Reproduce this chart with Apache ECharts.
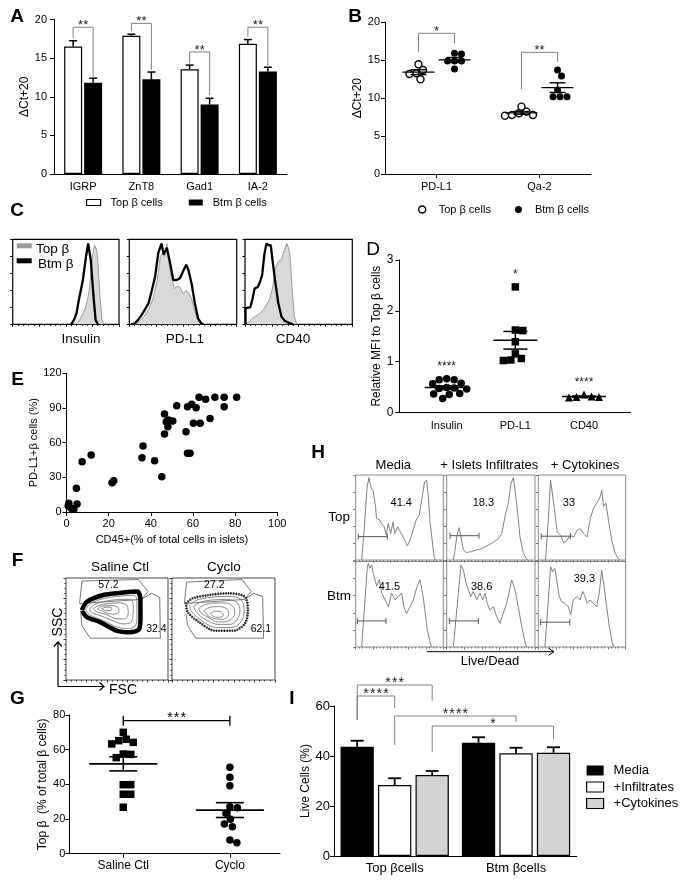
<!DOCTYPE html>
<html><head><meta charset="utf-8">
<script src="https://cdn.jsdelivr.net/npm/echarts@6/dist/echarts.min.js"></script>
<style>html,body{margin:0;padding:0;background:#fff}#c{width:689px;height:887px}</style>
</head><body><div id="c"></div>
<script>
// ================= DATA =================
// A
const aGenes = ['IGRP', 'ZnT8', 'Gad1', 'IA-2'];
const aTop = [16.5, 17.9, 13.55, 16.85];
const aTopSem = [0.75, 0.2, 0.55, 0.55];
const aBtm = [11.8, 12.25, 9.0, 13.27];
const aBtmSem = [0.6, 0.95, 0.8, 0.55];
const aSig = ['**', '**', '**', '**'];
const aSigTop = [19.0, 19.5, 15.8, 19.0];
const aSigLeftEnd = [17.6, 18.5, 14.3, 17.8];
const aSigRightEnd = [12.6, 13.5, 10.2, 14.0];
// B
const bMarkers = ['PD-L1', 'Qa-2'];
const bTopPDL1 = [13.28, 12.49, 14.47, 13.19, 13.72];
const bBtmPDL1 = [15.92, 15.83, 14.9, 14.9, 14.9, 13.85];
const bTopQa2 = [8.22, 7.78, 7.69, 7.78, 8.0, 8.88];
const bBtmQa2 = [13.72, 12.93, 10.2, 10.2, 10.2, 11.08];
const bSig = ['*', '**'];
const bSigTop = [18.55, 16.04];
const bSigLeftEnd = [16.12, 11.17];
const bSigRightEnd = [17.23, 14.8];
// C (x: fluorescence %, y: % of max)
const cLabels = ['Insulin', 'PD-L1', 'CD40'];
const cInsulinTop = [[58,0],[62,3],[65,10],[68,18],[70,27],[72,40],[73,52],[75,80],[77,93],[78,95],[79,88],[80,76],[82,33],[84,5],[86,0]];
const cInsulinBtm = [[55,0],[56,1],[58,6],[60,13],[62,27],[66,52],[69,80],[71,95],[72,87],[73.5,75],[76,33],[78,5],[80,0]];
const cPdl1Top = [[5,0],[8,2],[13,8],[18,17],[22,30],[26,52],[29,80],[31,84],[33,80],[35,95],[36,80],[39,56],[42,42],[45,45],[47,44],[50,36],[53,40],[56,35],[58,30],[60,20],[63,7],[66,1],[68,0]];
const cPdl1Btm = [[2,0],[5,1],[8,5],[12,12],[18,25],[21,40],[24,56],[27,84],[30,95],[32,82],[35,90],[38,72],[41,52],[44,52],[47,54],[50,62],[53,70],[55,64],[58,48],[61,25],[64,7],[67,1],[69,0]];
const cCd40Top = [[0,0],[2,1],[8,8],[13,12],[17,17],[20,23],[23,29],[26,45],[28,64],[31,74],[34,76],[36,85],[39,95],[41,88],[42,80],[44,40],[46,9],[48,1],[49,0]];
const cCd40Btm = [[0.5,0],[0.5,19],[2,20],[5,20],[7,30],[9,42],[12,44],[14,50],[16,58],[18,82],[20,95],[22,93],[24,93],[26,72],[28,52],[31,25],[34,9],[37,4],[39,3],[42,1],[45,0]];
// D
const dMarkers = ['Insulin', 'PD-L1', 'CD40'];
const dInsulin = [0.64, 0.57, 0.56, 0.64, 0.66, 0.48, 0.46, 0.49, 0.47, 0.36, 0.35, 0.37, 0.27];
const dPdl1 = [2.47, 1.61, 1.62, 1.39, 1.15, 1.06, 1.02, 1.03];
const dCd40 = [0.35, 0.30, 0.29, 0.30, 0.31];
const dSig = ['****', '*', '****'];
// E
const eCd45 = [11.7, 7.4, 36.3, 35.8, 41.8, 46.5, 46.5, 47.3, 48.1, 48.4, 50.4, 52.3, 56.7, 57.4, 59.4, 61.5, 60.2, 63.4, 57.4, 58.6, 62.9, 66.0, 68.1, 70.4, 74.8, 74.8, 80.7, 1.1, 2.2, 3.5, 5.0, 4.7, 21.6, 22.4, 45.2, 0.8, 2.8];
const ePdl1 = [49.3, 43.5, 57, 47, 44.4, 84.8, 67.5, 78.1, 73.8, 79.6, 78.7, 92, 69.5, 91.1, 93.2, 90.2, 76.7, 76.7, 50.8, 50.8, 99.2, 97.5, 81, 99.2, 99.2, 91.1, 99.2, 7.5, 3.2, 2.3, 6.9, 20.5, 25.3, 27.1, 30.5, 5.5, 2.8];
// F (FSC, SSC in % of scale)
const fTitles = ['Saline Ctl', 'Cyclo'];
const fSalineGateUpper = [[13.3,75],[15.6,97],[70.8,98.5],[80.5,86.7],[74,79],[13.3,75]];
const fSalineGateLower = [[74,79],[83.8,85],[91.9,81],[92.5,41],[23.7,41],[15.6,53.3],[14.6,65]];
const fSalineContours = [
  [[19,69],[24,75],[38,80],[56,82.5],[67,83],[69.5,76],[69.5,62],[68,53],[61,50.5],[50,52],[35,59],[23,64],[19,69]],
  [[23,69.5],[28,74],[40,77.5],[55,79],[64,78.5],[66,72],[65.5,62],[63,56],[56,55],[46,58],[34,63],[25,66],[23,69.5]],
  [[27,70],[32,73],[42,75],[53,75.5],[60,73],[61,66],[58,60],[50,60],[40,64],[30,67],[27,70]],
  [[31,70],[36,72.5],[45,73],[51,71],[52,67],[46,64.5],[38,66.5],[31,70]],
  [[35,70],[40,71.5],[45,70.5],[44,68],[39,68],[35,70]]
];
const fSalineOuter = [[15.6,68.3],[20.5,76.7],[36.7,83.3],[56.2,85.7],[70,86.7],[73,78.3],[73,61.7],[71.8,50],[62.7,46.7],[49.7,48.3],[33.4,56.7],[20.5,61.7],[15.6,68.3]];
const fCycloGateUpper = [[12,75],[14.2,96],[68,98.5],[76.9,86.7],[70.6,79],[12,75]];
const fCycloGateLower = [[70.6,79],[79.4,85],[88,81.7],[88.9,41],[23.1,41],[15.2,53.3],[13.6,65]];
const fCycloContours = [
  [[17,73],[23,78],[37,81],[54,82],[67,79],[70,68],[67,57],[58,51.5],[43,51.5],[29,58],[19,67],[17,73]],
  [[21,72],[27,76],[39,78.5],[53,79],[63,76],[66,68],[63,59],[56,54.5],[45,54.5],[33,59],[24,66],[21,72]],
  [[26,70],[31,73.5],[41,75.5],[52,75.5],[59,72],[61,66],[58,60],[51,57],[44,57],[36,61],[28,66],[26,70]],
  [[31,68],[36,71],[44,72],[51,71],[55,67],[54,62],[49,59.5],[42,60],[35,63],[31,68]],
  [[37,65],[42,67.5],[48,66.5],[50,63.5],[46,61.5],[41,62],[37,65]]
];
const fCycloOuter = [[13.6,75],[19.9,80],[35.8,83.3],[54.7,85],[70.6,81.7],[73.7,68.3],[70.6,55],[59.5,48.3],[42,48.3],[26.3,56.7],[15.2,66.7],[13.6,75]];
const fSalinePct = ['57.2', '32.4'];
const fCycloPct = ['27.2', '62.1'];
// G
const gGroups = ['Saline Ctl', 'Cyclo'];
const gSaline = [70, 65.2, 63.3, 64.2, 66, 57.3, 57.5, 55.4, 39.8, 39.8, 34.3, 34.3, 26.8];
const gCyclo = [49.8, 44.1, 39.2, 27.1, 26.5, 23.3, 19.8, 17.1, 15.6, 6.3, 7.9];
const gSig = '***';
// H (x: Live/Dead fluorescence %, y: % of max)
const hConds = ['Media', '+ Islets Infiltrates', '+ Cytokines'];
const hRows = ['Top', 'Btm'];
const hTopMedia = [[6.8,0],[10,40],[13,85],[15.1,97],[16.5,90],[18,84],[20,81],[21,80],[22.6,63],[23.8,49],[25.7,47],[27.5,47],[29.4,43],[32.5,39],[35,29],[37,43],[40,31],[42.6,45],[44.5,31],[48,39],[52,31],[55.8,24],[58.9,16.5],[61.5,22],[65,33],[69,47],[72.5,53],[76,74.5],[78.6,92],[81,94],[82.6,78],[85,43],[87.5,21.6],[89.4,4],[91,0]];
const hTopInf = [[7.5,0],[9.5,12],[11.3,27],[14,38],[16.2,27],[18.9,12],[22.6,8.6],[25,9.5],[28.3,9.8],[31,11],[34,12],[37,12.5],[39.6,13.7],[42,14.5],[45.3,16.5],[48,18],[51,19.6],[53,20],[56.6,23.5],[59,26],[62.3,31],[66.8,55],[69.8,67],[72.8,90],[75.5,97],[77.4,82],[80.4,55],[83,27],[86.8,8],[90.6,1],[92,0]];
const hTopCyto = [[8.3,0],[11.4,47],[14,94],[15.9,94],[18.6,59],[21.6,33],[25.4,29],[29.2,20],[33,23.5],[36.7,29],[40.5,27],[44.3,35],[48,37],[51.9,31],[55.7,27],[59.5,49],[63.3,61],[67,67],[70.8,74.5],[72.7,82],[74.6,63],[77.3,67],[80.3,47],[84,23.5],[87.9,8],[91.7,1],[93,0]];
const hBtmMedia = [[6.8,0],[10.6,55],[13.3,94],[14.4,98],[16,92],[18.3,96],[20,86],[24,71],[27,79],[29.7,63],[33.5,55],[37.3,47],[41,63],[44.9,55],[48.7,59],[52.5,63],[55.1,47],[58,39],[62,47],[65.8,55],[69.6,69],[73.4,78.5],[76.4,63],[79,43],[81.7,20],[84.8,6],[86.7,0]];
const hBtmInf = [[7.5,0],[13.2,63],[16.2,96],[18.9,90],[21.9,75],[24.5,67],[27.2,59],[30.2,65],[34,55],[37.7,63],[40.8,55],[43.4,63],[46,51],[49,43],[52.8,47],[56.6,35.5],[60.4,27.7],[64,39.5],[68,51],[73.6,78.5],[77.4,67],[81,47],[85,24],[88.7,6],[90.6,0]];
const hBtmCyto = [[7.6,0],[11.5,55],[14.1,94],[16.4,88],[19,92],[21,78.5],[24,59],[26.7,53],[30.5,51],[34.4,47],[37,37.5],[40,55],[43.9,59],[47.7,55],[50.8,65],[53.4,59],[56,51],[59.2,55],[63,51],[66.8,47],[69.8,63],[72.5,90],[75.2,71],[78.2,47],[81.3,24],[84,8],[85.9,0]];
const hGateFrom = [[3, 3.8, 3.4], [1.9, 3, 2.7]];
const hGateTo = [[36, 36.6, 36.7], [34.6, 35.8, 36]];
const hPct = [['41.4', '18.3', '33'], ['41.5', '38.6', '39.3']];
// I
const iGroups = ['Top βcells', 'Btm βcells'];
const iConds = ['Media', '+Infiltrates', '+Cytokines'];
const iMedia = [43.7, 45.3];
const iMediaSem = [2.4, 2.2];
const iInf = [28.4, 41.1];
const iInfSem = [2.7, 2.2];
const iCyto = [32.4, 41.3];
const iCytoSem = [1.6, 2.2];
const iSigPairs = [[0,0,0,2], [0,0,0,1], [0,1,1,1], [0,2,1,2]];
const iSig = ['***', '****', '****', '*'];
const iSigTop = [68.4, 64, 56, 52];
const iSigLeftEnd = [54.4, 54.4, 44.4, 41.7];
const iSigRightEnd = [62.1, 59.1, 53.7, 46.8];

// ================= HELPERS =================
const FONT = '"Liberation Sans", Arial, Helvetica, sans-serif';
const HS = '\u200A';
const spaced = s => s.split('').join(HS);
const mean = a => a.reduce((s, v) => s + v, 0) / a.length;
const sem = a => { const m = mean(a); return Math.sqrt(a.reduce((s, v) => s + (v - m) * (v - m), 0) / (a.length - 1)) / Math.sqrt(a.length); };
function swarm(vals, pxX, pxY, diam) {
  const idx = vals.map((v, i) => i).sort((a, b) => vals[b] - vals[a]);
  const placed = [], off = vals.map(() => 0);
  for (const i of idx) {
    const y = vals[i] * pxY;
    for (let k = 0; k < 600; k++) {
      const o = (k % 2 ? 1 : -1) * Math.ceil(k / 2) * 0.5;
      if (placed.every(p => (p[0] - o) * (p[0] - o) + (p[1] - y) * (p[1] - y) >= diam * diam - 0.01)) {
        placed.push([o, y]); off[i] = o / pxX; break;
      }
    }
  }
  return off;
}
function swarmPts(vals, center, pxX, pxY, diam) {
  const off = swarm(vals, pxX, pxY, diam);
  return vals.map((v, i) => [center + off[i], v]);
}

const grids = [], xAxes = [], yAxes = [], series = [], graphics = [];
function addGrid(g, xa, ya) {
  const i = grids.length;
  grids.push(Object.assign({ containLabel: false }, g));
  xa.gridIndex = i; ya.gridIndex = i;
  xAxes.push(xa); yAxes.push(ya);
  return i;
}
function S(gi, s) { return Object.assign({ xAxisIndex: gi, yAxisIndex: gi, animation: false, silent: true }, s); }
const blk = { color: '#000', width: 1 };
function valY(min, max, interval, name, nameGap, fs, margin, nameFs) {
  return { type: 'value', min, max, interval,
    axisLine: { show: true, onZero: false, lineStyle: blk },
    axisTick: { show: true, length: 4, lineStyle: blk },
    axisLabel: { color: '#000', fontSize: fs, fontFamily: FONT, margin },
    splitLine: { show: false },
    name, nameLocation: 'middle', nameGap, nameRotate: 90,
    nameTextStyle: { color: '#000', fontSize: nameFs || fs + 1, fontFamily: FONT } };
}
function catValX(min, max, labels, fs, margin, ticks) {
  const cv = labels.map((l, i) => i + 1);
  return { type: 'value', min, max,
    axisLine: { show: true, onZero: false, lineStyle: blk },
    axisTick: { show: ticks, length: 4, lineStyle: blk, customValues: cv },
    axisLabel: { color: '#000', fontSize: fs, fontFamily: FONT, margin, customValues: cv, formatter: v => labels[Math.round(v) - 1] },
    splitLine: { show: false } };
}
function boxAxes(border) {
  return [
    { type: 'value', min: 0, max: 100, interval: 25, axisLine: { show: false }, axisLabel: { show: false }, splitLine: { show: false },
      axisTick: { show: true, length: 2.5, lineStyle: { color: border, width: 1 } }, minorTick: { show: true, splitNumber: 5, length: 1.5, lineStyle: { color: border } } },
    { type: 'value', min: 0, max: 100, interval: 20, axisLine: { show: false }, axisLabel: { show: false }, splitLine: { show: false },
      axisTick: { show: true, length: 2.5, lineStyle: { color: border, width: 1 } } }
  ];
}
function T(text, x, y, size, o) {
  o = o || {};
  return { type: 'text', x, y, rotation: o.rot || 0, silent: true, z: 100,
    style: { text, fill: o.color || '#000', font: (o.weight || 'normal') + ' ' + size + 'px ' + FONT,
      align: o.align || 'center', verticalAlign: o.va || 'middle', textAlign: o.align || 'center', textVerticalAlign: o.va || 'middle' } };
}
function txtStyle(text, x, y, size, color, align) {
  return { text, x, y, fill: color || '#000', font: size + 'px ' + FONT, align: align || 'center', verticalAlign: 'middle', textAlign: align || 'center', textVerticalAlign: 'middle' };
}
function errBar(offset, cap, lw) {
  return function (params, api) {
    const b = api.coord([api.value(0), api.value(1)]);
    const t = api.coord([api.value(0), api.value(1) + api.value(2)]);
    const cx = b[0] + offset;
    return { type: 'group', children: [
      { type: 'line', shape: { x1: cx, y1: b[1], x2: cx, y2: t[1] }, style: { stroke: '#000', lineWidth: lw } },
      { type: 'line', shape: { x1: cx - cap, y1: t[1], x2: cx + cap, y2: t[1] }, style: { stroke: '#000', lineWidth: lw } }
    ] };
  };
}
function meanSem(mw, sw, lw) {
  return function (params, api) {
    const x = api.value(0), m = api.value(1), e = api.value(2);
    const pm = api.coord([x, m]), pu = api.coord([x, m + e]), pl = api.coord([x, m - e]);
    const st = { stroke: '#000', lineWidth: lw };
    return { type: 'group', children: [
      { type: 'line', shape: { x1: pm[0] - mw, y1: pm[1], x2: pm[0] + mw, y2: pm[1] }, style: st },
      { type: 'line', shape: { x1: pm[0], y1: pu[1], x2: pm[0], y2: pl[1] }, style: st },
      { type: 'line', shape: { x1: pm[0] - sw, y1: pu[1], x2: pm[0] + sw, y2: pu[1] }, style: st },
      { type: 'line', shape: { x1: pm[0] - sw, y1: pl[1], x2: pm[0] + sw, y2: pl[1] }, style: st }
    ] };
  };
}
function bracketShape(xl, xr, yt, yl, yr, label, fs, color) {
  return { type: 'group', children: [
    { type: 'polyline', shape: { points: [[xl, yl], [xl, yt], [xr, yt], [xr, yr]] }, style: { stroke: color, lineWidth: 1, fill: null } },
    { type: 'text', style: txtStyle(label, (xl + xr) / 2, yt - 2, fs, '#222') }
  ] };
}
const dot = { color: '#000', opacity: 1 };

// ================= PANEL A =================
const gA = addGrid({ left: 54, top: 19.5, width: 233, height: 154.5 },
  { type: 'category', data: aGenes, axisLine: { lineStyle: blk }, axisTick: { alignWithLabel: true, length: 4, lineStyle: blk },
    axisLabel: { color: '#000', fontSize: 11, fontFamily: FONT, margin: 7 } },
  valY(0, 20, 5, 'ΔCt+20', 18, 11, 7, 12));
series.push(S(gA, { type: 'bar', name: 'Top β cells', data: aTop, barWidth: 18, barGap: '11%', itemStyle: { color: '#fff', borderColor: '#000', borderWidth: 1.2 } }));
series.push(S(gA, { type: 'bar', name: 'Btm β cells', data: aBtm, barWidth: 18, barGap: '11%', itemStyle: { color: '#000' } }));
series.push(S(gA, { type: 'custom', z: 5, clip: false, encode: { x: 0, y: 1 }, renderItem: errBar(-10, 4, 1.5), data: aTop.map((v, i) => [i, v, aTopSem[i]]) }));
series.push(S(gA, { type: 'custom', z: 5, clip: false, encode: { x: 0, y: 1 }, renderItem: errBar(10, 4, 1.5), data: aBtm.map((v, i) => [i, v, aBtmSem[i]]) }));
series.push(S(gA, { type: 'custom', z: 6, clip: false, encode: { x: 0, y: 1 },
  renderItem: function (params, api) {
    const i = api.value(0); const c = api.coord([i, 0])[0];
    return bracketShape(c - 10, c + 10, api.coord([i, api.value(1)])[1], api.coord([i, api.value(2)])[1], api.coord([i, api.value(3)])[1], aSig[params.dataIndex], 13, '#808080');
  },
  data: aGenes.map((g, i) => [i, aSigTop[i], aSigLeftEnd[i], aSigRightEnd[i]]) }));

// ================= PANEL B =================
const bPxX = 103, bPxY = 151.7 / 20, bOff = 0.175;
const gB = addGrid({ left: 385, top: 22.3, width: 206, height: 151.7 },
  catValX(0.5, 2.5, bMarkers, 11, 7, true),
  valY(0, 20, 5, 'ΔCt+20', 13, 11, 5, 12));
const bTopSets = [bTopPDL1, bTopQa2], bBtmSets = [bBtmPDL1, bBtmQa2];
series.push(S(gB, { type: 'scatter', name: 'Top β cells', symbol: 'circle', symbolSize: 7, z: 4,
  itemStyle: { color: '#fff', borderColor: '#000', borderWidth: 1.4, opacity: 1 },
  data: [].concat(...bTopSets.map((v, c) => swarmPts(v, c + 1 - bOff, bPxX, bPxY, 7))) }));
series.push(S(gB, { type: 'scatter', name: 'Btm β cells', symbol: 'circle', symbolSize: 7, z: 4,
  itemStyle: dot,
  data: [].concat(...bBtmSets.map((v, c) => swarmPts(v, c + 1 + bOff, bPxX, bPxY, 7))) }));
series.push(S(gB, { type: 'custom', z: 6, clip: false, encode: { x: 0, y: 1 }, renderItem: meanSem(16, 8, 1.4),
  data: [].concat(bTopSets.map((v, c) => [c + 1 - bOff, mean(v), sem(v)]), bBtmSets.map((v, c) => [c + 1 + bOff, mean(v), sem(v)])) }));
series.push(S(gB, { type: 'custom', z: 6, clip: false, encode: { x: 0, y: 1 },
  renderItem: function (params, api) {
    const c = api.value(0);
    const xl = api.coord([c - bOff, 0])[0], xr = api.coord([c + bOff, 0])[0];
    return bracketShape(xl, xr, api.coord([c, api.value(1)])[1], api.coord([c, api.value(2)])[1], api.coord([c, api.value(3)])[1], bSig[params.dataIndex], 13, '#808080');
  },
  data: bMarkers.map((m, i) => [i + 1, bSigTop[i], bSigLeftEnd[i], bSigRightEnd[i]]) }));

// ================= PANEL C =================
const cBoxes = [{ left: 12.7, width: 106.3 }, { left: 129.3, width: 107.4 }, { left: 245, width: 107.3 }];
const cTop = [cInsulinTop, cPdl1Top, cCd40Top], cBtm = [cInsulinBtm, cPdl1Btm, cCd40Btm];
cBoxes.forEach((b, k) => {
  const ax = boxAxes('#000');
  const gi = addGrid({ left: b.left, top: 239.3, width: b.width, height: 85, show: true, borderColor: '#000', borderWidth: 1.2 }, ax[0], ax[1]);
  series.push(S(gi, { type: 'line', name: 'Top β', data: cTop[k], showSymbol: false, symbol: 'none', z: 2,
    lineStyle: { color: '#9a9a9a', width: 1 }, areaStyle: { color: '#d9d9d9', opacity: 1 } }));
  series.push(S(gi, { type: 'line', name: 'Btm β', data: cBtm[k], showSymbol: false, symbol: 'none', z: 3,
    lineStyle: { color: '#000', width: 2.3 } }));
});

// ================= PANEL D =================
const dPxX = 68.7, dPxY = 152.3 / 3;
const dSets = [dInsulin, dPdl1, dCd40], dSym = ['circle', 'rect', 'triangle'];
const gD = addGrid({ left: 399.3, top: 260, width: 231.4, height: 152.3 },
  catValX(0.31, 3.68, dMarkers, 11, 8, false),
  valY(0, 3, 1, 'Relative MFI to Top β cells', 15, 12, 6, 12));
dSets.forEach((v, c) => {
  series.push(S(gD, { type: 'scatter', name: dMarkers[c], symbol: dSym[c], symbolSize: c === 2 ? 8 : 7.5, z: 4,
    itemStyle: dot, data: swarmPts(v, c + 1, dPxX, dPxY, 7.5) }));
});
series.push(S(gD, { type: 'custom', z: 6, clip: false, encode: { x: 0, y: 1 }, renderItem: meanSem(22, 12, 1.5),
  data: dSets.map((v, c) => [c + 1, mean(v), sem(v)]) }));
series.push(S(gD, { type: 'custom', z: 6, clip: false, encode: { x: 0, y: 1 },
  renderItem: function (params, api) {
    const p = api.coord([api.value(0), api.value(1)]);
    return { type: 'text', style: txtStyle(dSig[params.dataIndex], p[0], p[1] - 12, 12, '#222') };
  },
  data: dSets.map((v, c) => [c + 1, Math.max(...v)]) }));

// ================= PANEL E =================
const gE = addGrid({ left: 66.5, top: 373.3, width: 210.8, height: 138.7 },
  { type: 'value', min: 0, max: 100, interval: 20, axisLine: { show: true, onZero: false, lineStyle: blk }, axisTick: { show: true, length: 4, lineStyle: blk },
    axisLabel: { color: '#000', fontSize: 11, fontFamily: FONT, margin: 6 }, splitLine: { show: false },
    name: 'CD45+(% of total cells in islets)', nameLocation: 'middle', nameGap: 22, nameTextStyle: { color: '#000', fontSize: 11, fontFamily: FONT } },
  valY(0, 120, 30, 'PD-L1+β cells (%)', 27, 11, 5, 11));
series.push(S(gE, { type: 'scatter', symbol: 'circle', symbolSize: 7.5, itemStyle: dot, data: eCd45.map((x, i) => [x, ePdl1[i]]) }));

// ================= PANEL F =================
const fBoxes = [{ left: 66, width: 102 }, { left: 172, width: 103 }];
const fGates = [[fSalineGateUpper, fSalineGateLower], [fCycloGateUpper, fCycloGateLower]];
const fCont = [fSalineContours, fCycloContours], fOuter = [fSalineOuter, fCycloOuter], fPct = [fSalinePct, fCycloPct];
fBoxes.forEach((b, k) => {
  const ax = boxAxes('#333');
  ax[0].interval = 20; ax[0].minorTick.splitNumber = 4;
  ax[1].minorTick = { show: true, splitNumber: 4, length: 1.5, lineStyle: { color: '#333' } };
  const gi = addGrid({ left: b.left, top: 578, width: b.width, height: 102, show: true, borderColor: '#444', borderWidth: 1 }, ax[0], ax[1]);
  fGates[k].forEach(gp => series.push(S(gi, { type: 'line', data: gp, symbol: 'none', z: 2, lineStyle: { color: '#555', width: 0.8 } })));
  fCont[k].forEach(cp => series.push(S(gi, { type: 'line', data: cp, symbol: 'none', smooth: 0.35, z: 3, lineStyle: { color: '#6a6a6a', width: 0.8 } })));
  if (k === 0) {
    series.push(S(gi, { type: 'line', data: fOuter[k], symbol: 'none', smooth: 0.3, z: 4, lineStyle: { color: '#000', width: 4.5 } }));
  } else {
    series.push(S(gi, { type: 'line', data: fOuter[k], symbol: 'none', smooth: 0.3, z: 4, lineStyle: { color: '#111', width: 2.6, type: [1.2, 1.4] } }));
    series.push(S(gi, { type: 'line', data: fOuter[k], symbol: 'none', smooth: 0.3, z: 4, lineStyle: { color: '#333', width: 0.8 } }));
  }
  series.push(S(gi, { type: 'custom', z: 6, clip: false, encode: { x: 0, y: 1 },
    renderItem: function (params, api) {
      const p = api.coord([api.value(0), api.value(1)]);
      return { type: 'text', style: txtStyle(fPct[k][params.dataIndex], p[0], p[1], 10.5, '#000') };
    },
    data: k === 0 ? [[41.6, 93], [88.6, 50]] : [[41.1, 93], [86.4, 50]] }));
});

// ================= PANEL G =================
const gPxX = 106.6, gPxY = 138.7 / 80;
const gSets = [gSaline, gCyclo], gSym = ['rect', 'circle'];
const gG = addGrid({ left: 69.3, top: 715, width: 210.7, height: 138.7 },
  catValX(0.494, 2.47, gGroups, 12, 6, true),
  valY(0, 80, 20, 'Top β  (% of total β cells)', 18, 11, 4, 12));
gSets.forEach((v, c) => {
  series.push(S(gG, { type: 'scatter', name: gGroups[c], symbol: gSym[c], symbolSize: 7.5, z: 4, itemStyle: dot,
    data: swarmPts(v, c + 1, gPxX, gPxY, 7.5) }));
});
series.push(S(gG, { type: 'custom', z: 6, clip: false, encode: { x: 0, y: 1 }, renderItem: meanSem(34, 14, 1.6),
  data: gSets.map((v, c) => [c + 1, mean(v), sem(v)]) }));
series.push(S(gG, { type: 'custom', z: 6, clip: false, encode: { x: 0, y: 1 },
  renderItem: function (params, api) {
    const a = api.coord([1, api.value(0)]), b = api.coord([2, api.value(0)]);
    const st = { stroke: '#000', lineWidth: 1.3 };
    return { type: 'group', children: [
      { type: 'line', shape: { x1: a[0], y1: a[1], x2: b[0], y2: b[1] }, style: st },
      { type: 'line', shape: { x1: a[0], y1: a[1] - 5, x2: a[0], y2: a[1] + 5 }, style: st },
      { type: 'line', shape: { x1: b[0], y1: b[1] - 5, x2: b[0], y2: b[1] + 5 }, style: st },
      { type: 'text', style: txtStyle(spaced(gSig), (a[0] + b[0]) / 2, a[1] - 3, 14, '#000') }
    ] };
  },
  data: [[76.7]] }));

// ================= PANEL H =================
const hCols = [{ left: 355.7, width: 87.6 }, { left: 446.7, width: 88.3 }, { left: 538.3, width: 87.4 }];
const hRowsPos = [{ top: 475, height: 85 }, { top: 561.5, height: 85.5 }];
const hCurves = [[hTopMedia, hTopInf, hTopCyto], [hBtmMedia, hBtmInf, hBtmCyto]];
const hGateY = [[27.5, 28.6, 28], [30.5, 30.5, 29]];
const hLabelAt = [[[52, 67], [41.5, 67], [35, 67]], [[38.4, 70.7], [39.6, 70.7], [52.7, 80]]];
hRowsPos.forEach((r, ri) => hCols.forEach((c, ci) => {
  const ax = boxAxes('#777');
  ax[0].interval = 20; ax[0].minorTick.splitNumber = 5;
  const gi = addGrid({ left: c.left, top: r.top, width: c.width, height: r.height, show: true, borderColor: '#8a8a8a', borderWidth: 1 }, ax[0], ax[1]);
  series.push(S(gi, { type: 'line', data: hCurves[ri][ci], symbol: 'none', z: 3, lineStyle: { color: '#808080', width: 1 } }));
  series.push(S(gi, { type: 'custom', z: 6, clip: false, encode: { x: 0, y: 2 },
    renderItem: function (params, api) {
      const a = api.coord([api.value(0), api.value(2)]), b = api.coord([api.value(1), api.value(2)]);
      const lp = api.coord(hLabelAt[ri][ci]);
      const st = { stroke: '#555', lineWidth: 1 };
      return { type: 'group', children: [
        { type: 'line', shape: { x1: a[0], y1: a[1], x2: b[0], y2: b[1] }, style: st },
        { type: 'line', shape: { x1: a[0], y1: a[1] - 3, x2: a[0], y2: a[1] + 3 }, style: st },
        { type: 'line', shape: { x1: b[0], y1: b[1] - 3, x2: b[0], y2: b[1] + 3 }, style: st },
        { type: 'text', style: txtStyle(hPct[ri][ci], lp[0], lp[1], 11, '#000') }
      ] };
    },
    data: [[hGateFrom[ri][ci], hGateTo[ri][ci], hGateY[ri][ci]]] }));
}));

// ================= PANEL I =================
const iStep = 37.5;
const gI = addGrid({ left: 334, top: 706, width: 242.7, height: 150 },
  { type: 'category', data: iGroups, axisLine: { lineStyle: blk }, axisTick: { show: false },
    axisLabel: { color: '#000', fontSize: 13, fontFamily: FONT, margin: 6 } },
  valY(0, 60, 20, 'Live Cells (%)', 22, 13, 4, 12));
const iVals = [iMedia, iInf, iCyto], iSems = [iMediaSem, iInfSem, iCytoSem];
const iStyles = [{ color: '#000' }, { color: '#fff', borderColor: '#000', borderWidth: 1.2 }, { color: '#d3d3d3', borderColor: '#000', borderWidth: 1.2 }];
iVals.forEach((v, k) => {
  series.push(S(gI, { type: 'bar', name: iConds[k], data: v, barWidth: 33.3, barGap: '12.6%', itemStyle: iStyles[k] }));
});
iVals.forEach((v, k) => {
  series.push(S(gI, { type: 'custom', z: 5, clip: false, encode: { x: 0, y: 1 }, renderItem: errBar((k - 1) * iStep, 6.5, 1.8),
    data: v.map((y, i) => [i, y, iSems[k][i]]) }));
});
series.push(S(gI, { type: 'custom', z: 6, clip: false, encode: { x: 0, y: 4 },
  renderItem: function (params, api) {
    const xl = api.coord([api.value(0), 0])[0] + (api.value(1) - 1) * iStep;
    const xr = api.coord([api.value(2), 0])[0] + (api.value(3) - 1) * iStep;
    const c = api.value(0);
    return bracketShape(xl, xr, api.coord([c, api.value(4)])[1], api.coord([c, api.value(5)])[1], api.coord([c, api.value(6)])[1], spaced(iSig[params.dataIndex]), 14, '#808080');
  },
  data: iSigPairs.map((p, i) => [p[0], p[1], p[2], p[3], iSigTop[i], iSigLeftEnd[i], iSigRightEnd[i]]) }));

// ================= GRAPHIC TEXTS =================
const L = (t, x, y, w) => graphics.push(T(t, x, y, 19, { weight: w === undefined ? 'bold' : w }));
L('A', 17, 17); L('B', 355, 17); L('C', 17, 211); L('D', 373, 250, 'normal'); L('E', 17.5, 379.5);
L('F', 17.5, 561); L('G', 17.5, 699); L('H', 318, 453); L('I', 292, 699);
[81, 185, 293].forEach((x, i) => graphics.push(T(cLabels[i], x, 339, 13.5)));
graphics.push({ type: 'rect', shape: { x: 16.7, y: 243.3, width: 15, height: 5 }, style: { fill: '#999' }, z: 100, silent: true });
graphics.push({ type: 'rect', shape: { x: 16.7, y: 258.3, width: 15, height: 5 }, style: { fill: '#000' }, z: 100, silent: true });
graphics.push(T('Top β', 36, 249, 13.5, { align: 'left' }));
graphics.push(T('Btm β', 38, 264, 13.5, { align: 'left' }));
graphics.push(T(fTitles[0], 120, 567, 13.5));
graphics.push(T(fTitles[1], 224, 567, 13.5));
graphics.push({ type: 'polyline', shape: { points: [[58, 642], [58, 686.5], [104, 686.5]] }, style: { stroke: '#000', lineWidth: 1.2, fill: null }, z: 100, silent: true });
graphics.push({ type: 'polyline', shape: { points: [[54, 646.5], [58, 642], [62, 646.5]] }, style: { stroke: '#000', lineWidth: 1.2, fill: null }, z: 100, silent: true });
graphics.push({ type: 'polyline', shape: { points: [[99.5, 682.5], [104, 686.5], [99.5, 690.5]] }, style: { stroke: '#000', lineWidth: 1.2, fill: null }, z: 100, silent: true });
graphics.push(T('SSC', 58.5, 622, 14, { rot: Math.PI / 2 }));
graphics.push(T('FSC', 123, 690, 14));
[393.3, 489.3, 585].forEach((x, i) => graphics.push(T(hConds[i], x, 465, 13)));
graphics.push(T(hRows[0], 350, 517, 13.5, { align: 'right' }));
graphics.push(T(hRows[1], 351, 596, 13.5, { align: 'right' }));
graphics.push({ type: 'line', shape: { x1: 426.7, y1: 651.7, x2: 554, y2: 651.7 }, style: { stroke: '#000', lineWidth: 1 }, z: 100, silent: true });
graphics.push({ type: 'polyline', shape: { points: [[548.5, 648.2], [554, 651.7], [548.5, 655.2]] }, style: { stroke: '#000', lineWidth: 1, fill: null }, z: 100, silent: true });
graphics.push(T('Live/Dead', 490, 661, 13));

// ================= OPTION =================
const chart = echarts.init(document.getElementById('c'), null, { renderer: 'canvas' });
chart.setOption({
  animation: false,
  backgroundColor: '#fff',
  textStyle: { fontFamily: FONT },
  grid: grids, xAxis: xAxes, yAxis: yAxes, series,
  legend: [
    { left: 86, top: 197, itemWidth: 14, itemHeight: 6, itemGap: 26, padding: 0, selectedMode: false,
      textStyle: { fontSize: 11, color: '#000', fontFamily: FONT, padding: [0, 0, 0, 5] },
      data: [{ name: 'Top β cells', icon: 'rect', itemStyle: { color: '#fff', borderColor: '#000', borderWidth: 1.2 } },
             { name: 'Btm β cells', icon: 'rect', itemStyle: { color: '#000', borderWidth: 0 } }] },
    { left: 418, top: 204, itemWidth: 7, itemHeight: 7, itemGap: 24, padding: 0, selectedMode: false,
      textStyle: { fontSize: 11, color: '#000', fontFamily: FONT, padding: [0, 0, 0, 8] },
      data: [{ name: 'Top β cells', icon: 'circle', itemStyle: { color: '#fff', borderColor: '#000', borderWidth: 1.4, opacity: 1 } },
             { name: 'Btm β cells', icon: 'circle', itemStyle: { color: '#000', borderWidth: 0, opacity: 1 } }] },
    { left: 586, top: 764, orient: 'vertical', itemWidth: 17, itemHeight: 10, itemGap: 3.5, padding: 0, selectedMode: false,
      textStyle: { fontSize: 13, color: '#000', fontFamily: FONT, padding: [0, 0, 0, 5] },
      data: [{ name: 'Media', icon: 'rect', itemStyle: { color: '#000', borderWidth: 0 } },
             { name: '+Infiltrates', icon: 'rect', itemStyle: { color: '#fff', borderColor: '#000', borderWidth: 1.2 } },
             { name: '+Cytokines', icon: 'rect', itemStyle: { color: '#d3d3d3', borderColor: '#000', borderWidth: 1.2 } }] }
  ],
  graphic: graphics
});
</script></body></html>
